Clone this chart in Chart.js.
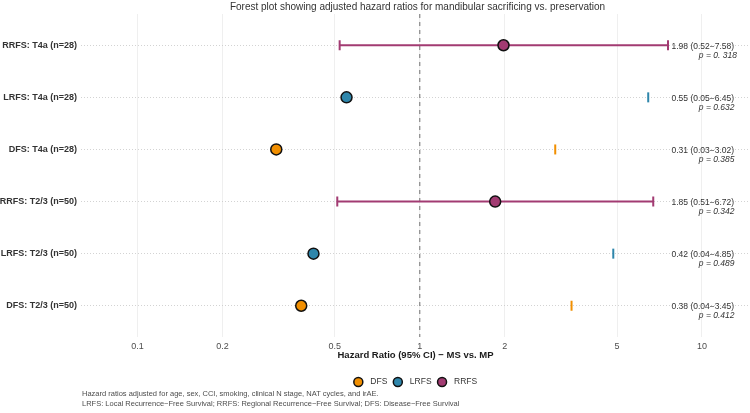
<!DOCTYPE html>
<html>
<head>
<meta charset="utf-8">
<script src="https://cdn.jsdelivr.net/npm/chart.js@4"></script>
<style>
  html, body { margin: 0; padding: 0; background: #fff; }
</style>
</head>
<body>
<canvas id="forestChart" width="750" height="413"></canvas>
<script>
// rivit alhaalta ylös (y = 1 ... 6)
const rivit = ['DFS: T2/3 (n=50)', 'LRFS: T2/3 (n=50)', 'RRFS: T2/3 (n=50)', 'DFS: T4a (n=28)', 'LRFS: T4a (n=28)', 'RRFS: T4a (n=28)'];
const päätetapahtuma = ['DFS', 'LRFS', 'RRFS', 'DFS', 'LRFS', 'RRFS'];
const hr = [0.38, 0.42, 1.85, 0.31, 0.55, 1.98];
const alaraja = [0.04, 0.04, 0.51, 0.03, 0.05, 0.52];
const yläraja = [3.45, 4.85, 6.72, 3.02, 6.45, 7.58];
const pArvot = ['0.412', '0.489', '0.342', '0.385', '0.632', '0. 318'];
const sarjat = ['DFS', 'LRFS', 'RRFS'];
const xTikit = [0.1, 0.2, 0.5, 1, 2, 5, 10];

const värit = { DFS: '#F18F01', LRFS: '#2E86AB', RRFS: '#A23B72' };
const fontti = "'Liberation Sans', Arial, sans-serif";
const otsikko = 'Forest plot showing adjusted hazard ratios for mandibular sacrificing vs. preservation';
const selite = [
  'Hazard ratios adjusted for age, sex, CCI, smoking, clinical N stage, NAT cycles, and irAE.',
  'LRFS: Local Recurrence\u2212Free Survival; RRFS: Regional Recurrence\u2212Free Survival; DFS: Disease\u2212Free Survival'
];
const tekstiX = 7.8;  // HR-tekstin paikka x-akselilla
const pX = 9.75;      // p-arvon paikka

const koristeet = {
  id: 'koristeet',
  beforeDatasetsDraw(chart) {
    const { ctx, chartArea: a, scales: { x, y } } = chart;
    ctx.save();
    // katkoviiva kohdassa HR = 1
    const x1 = x.getPixelForValue(1);
    ctx.strokeStyle = '#707070';
    ctx.lineWidth = 1;
    ctx.setLineDash([4, 4]);
    ctx.beginPath();
    ctx.moveTo(x1, a.top);
    ctx.lineTo(x1, a.bottom);
    ctx.stroke();
    ctx.setLineDash([]);

    // luottamusvälit
    ctx.lineWidth = 2;
    rivit.forEach((_, i) => {
      const yp = y.getPixelForValue(i + 1);
      const xh = x.getPixelForValue(yläraja[i]);
      ctx.strokeStyle = värit[päätetapahtuma[i]];
      ctx.beginPath();
      if (alaraja[i] >= x.min) {
        const xl = x.getPixelForValue(alaraja[i]);
        ctx.moveTo(xl, yp); ctx.lineTo(xh, yp);
        ctx.moveTo(xl, yp - 5); ctx.lineTo(xl, yp + 5);
      }
      ctx.moveTo(xh, yp - 5); ctx.lineTo(xh, yp + 5);
      ctx.stroke();
    });
    ctx.restore();
  },
  afterDraw(chart) {
    const { ctx, chartArea: a, scales: { x, y } } = chart;
    const keski = (a.left + a.right) / 2;
    ctx.save();
    ctx.textBaseline = 'middle';

    // otsikko
    ctx.fillStyle = '#333';
    ctx.font = `10px ${fontti}`;
    ctx.textAlign = 'center';
    ctx.fillText(otsikko, keski + 2, 7);

    // HR (95% CI) ja p-arvot
    ctx.textAlign = 'left';
    rivit.forEach((_, i) => {
      const yp = y.getPixelForValue(i + 1);
      ctx.font = `8.5px ${fontti}`;
      ctx.fillText(`${hr[i].toFixed(2)} (${alaraja[i].toFixed(2)}\u2212${yläraja[i].toFixed(2)})`, x.getPixelForValue(tekstiX), yp + 1);
      ctx.font = `italic 8.5px ${fontti}`;
      ctx.fillText(`p = ${pArvot[i]}`, x.getPixelForValue(pX), yp + 10);
    });

    // selite (legend)
    ctx.font = `8.5px ${fontti}`;
    const r = 4.5;
    const leveydet = sarjat.map(s => ctx.measureText(s).width);
    let koko = 0;
    leveydet.forEach((w, i) => { koko += r + 12 + w + (i < sarjat.length - 1 ? 10.5 - r : 0); });
    let xx = keski - koko / 2;
    const ly = 382;
    sarjat.forEach((s, i) => {
      const cx = xx + r;
      ctx.beginPath();
      ctx.arc(cx, ly, r, 0, Math.PI * 2);
      ctx.fillStyle = värit[s];
      ctx.fill();
      ctx.lineWidth = 1.5;
      ctx.strokeStyle = '#111';
      ctx.stroke();
      ctx.fillStyle = '#333';
      ctx.fillText(s, cx + 12, ly);
      xx = cx + 12 + leveydet[i] + 10.5 - r;
    });

    // alaviite
    ctx.fillStyle = '#4D4D4D';
    ctx.font = `7.5px ${fontti}`;
    ctx.fillText(selite[0], a.left + 1, 394);
    ctx.fillText(selite[1], a.left + 1, 404);
    ctx.restore();
  }
};

const ctx = document.getElementById('forestChart').getContext('2d');
const chart = new Chart(ctx, {
  type: 'scatter',
  data: {
    datasets: sarjat.map(s => ({
      label: s,
      data: hr.map((v, i) => ({ x: v, y: i + 1 })).filter((_, i) => päätetapahtuma[i] === s),
      backgroundColor: värit[s],
      borderColor: '#111',
      borderWidth: 1.5,
      pointRadius: 5.5,
      pointHoverRadius: 5.5
    }))
  },
  options: {
    responsive: false,
    animation: false,
    layout: { autoPadding: false, padding: { top: 14, right: 0, bottom: 0, left: 0 } },
    plugins: {
      legend: { display: false },
      tooltip: { enabled: false },
      title: { display: false }
    },
    scales: {
      x: {
        type: 'logarithmic',
        min: 0.063,
        max: 14.8,
        afterBuildTicks: s => { s.ticks = xTikit.map(v => ({ value: v })); },
        afterFit: s => { s.height = 76; s.paddingLeft = 0; s.paddingRight = 0; },
        ticks: {
          callback: v => String(v),
          color: '#4D4D4D',
          font: { family: fontti, size: 9 },
          padding: 4,
          autoSkip: false,
          maxRotation: 0
        },
        grid: { color: '#EBEBEB', lineWidth: 0.8, drawTicks: false },
        border: { display: false },
        title: {
          display: true,
          text: 'Hazard Ratio (95% CI) \u2212 MS vs. MP',
          color: '#1a1a1a',
          font: { family: fontti, size: 9.5, weight: 'bold' },
          padding: { top: 0, bottom: 52 }
        }
      },
      y: {
        type: 'linear',
        min: 0.4,
        max: 6.6,
        afterBuildTicks: s => { s.ticks = rivit.map((_, i) => ({ value: i + 1 })); },
        afterFit: s => { s.width = 81; s.paddingTop = 0; s.paddingBottom = 0; },
        ticks: {
          callback: v => rivit[v - 1],
          color: '#333',
          font: { family: fontti, size: 9, weight: 'bold' },
          padding: 4,
          autoSkip: false
        },
        grid: { color: '#C8C8C8', lineWidth: 0.8, drawTicks: false },
        border: { display: false, dash: [1, 2] }
      }
    }
  },
  plugins: [koristeet]
});
</script>
</body>
</html>
